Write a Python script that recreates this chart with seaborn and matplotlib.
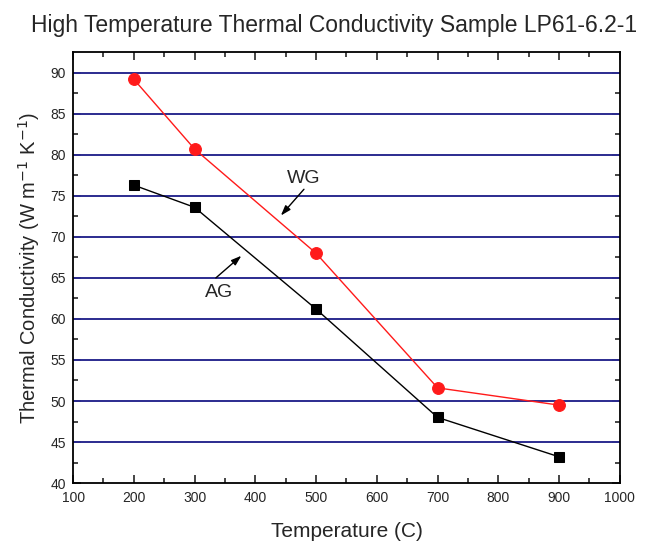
import numpy as np
import pandas as pd
import matplotlib
matplotlib.use('Agg')
import matplotlib.pyplot as plt
import seaborn as sns

temps = [200, 300, 500, 700, 900]
wg = [89.2, 80.7, 68.0, 51.6, 49.5]
ag = [76.3, 73.6, 61.2, 48.0, 43.2]

sns.set_style('ticks')
plt.rcParams['font.family'] = ['Liberation Sans', 'DejaVu Sans']
plt.rcParams['xtick.direction'] = 'in'
plt.rcParams['ytick.direction'] = 'in'

fig = plt.figure(figsize=(6.47, 5.44), dpi=100)
ax = fig.add_axes([0.113, 0.112, 0.845, 0.792])

for y in range(45, 95, 5):
    ax.axhline(y, color='#2b2b8f', lw=1.4, zorder=1)

sns.lineplot(x=temps, y=wg, color='#ff1a1a', marker='o', markersize=8.5,
             markeredgecolor='#ff1a1a', lw=1, ax=ax, zorder=3)
sns.lineplot(x=temps, y=ag, color='black', marker='s', markersize=7.5,
             markeredgecolor='black', lw=1, ax=ax, zorder=3)

# labels with small arrows
arrow = dict(arrowstyle='-|>,head_length=0.6,head_width=0.2', color='black', lw=1,
             shrinkA=0, shrinkB=0)
ax.text(480, 77.1, 'WG', fontsize=14, ha='center', va='center')
ax.annotate('', xy=(442, 72.6), xytext=(480, 75.8), arrowprops=arrow)
ax.text(340, 63.2, 'AG', fontsize=14, ha='center', va='center')
ax.annotate('', xy=(377, 67.7), xytext=(335, 65.0), arrowprops=arrow)

ax.set_xlim(100, 1000)
ax.set_ylim(40, 92.5)
ax.set_xticks(np.arange(100, 1001, 100))
ax.set_xticks(np.arange(150, 1000, 100), minor=True)
ax.set_yticks(np.arange(40, 91, 5))
ax.set_yticks(np.arange(42.5, 91, 5), minor=True)
ax.tick_params(which='both', top=True, right=True, labelsize=10, width=1.2)
ax.tick_params(axis='x', which='major', pad=6)
ax.tick_params(axis='y', which='major', pad=5)
ax.tick_params(which='major', length=6)
ax.tick_params(which='minor', length=3.5)
for s in ax.spines.values():
    s.set_linewidth(1.3)
    s.set_color('black')

ax.set_xlabel('Temperature (C)', fontsize=15, labelpad=12)
ax.set_ylabel('Thermal Conductivity (W m$^{-1}$ K$^{-1}$)', fontsize=14.5, labelpad=6)
fig.suptitle('High Temperature Thermal Conductivity Sample LP61-6.2-1', fontsize=16.5,
             x=0.517, y=0.975)

fig.savefig('out.png', dpi=100)
